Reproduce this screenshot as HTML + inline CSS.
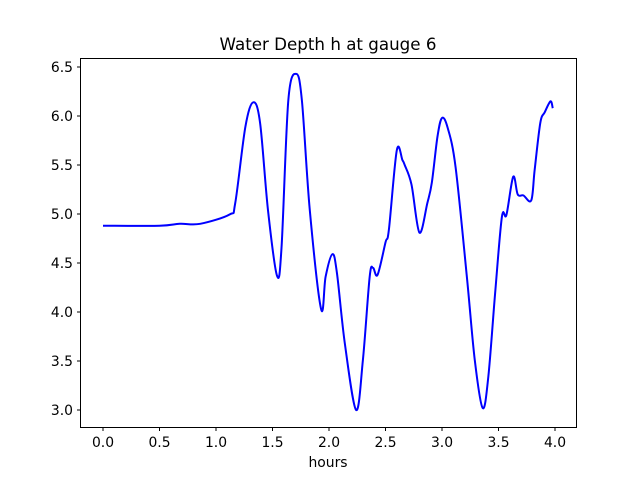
<!DOCTYPE html>
<html><head><meta charset="utf-8"><style>
body{margin:0;background:#fff;}
svg text{font-family:"DejaVu Sans","Liberation Sans",sans-serif;fill:#000;}
</style></head><body>
<svg id="chart" width="640" height="480" xmlns="http://www.w3.org/2000/svg">
<rect width="640" height="480" fill="#fff"/>
<text x="328" y="50" text-anchor="middle" font-size="16.7">Water Depth h at gauge 6</text>
<g id="xt"></g><g id="yt"></g>
<path id="line" fill="none" stroke="#0000ff" stroke-width="2"/>
<rect x="80.5" y="58.5" width="496" height="369" fill="none" stroke="#000" stroke-width="1"/>
<text x="328" y="467" text-anchor="middle" font-size="13.9">hours</text>
</svg>
<script>
const hours=[0,0.5,0.68,0.86,1.12,1.17,1.26,1.33,1.39,1.46,1.54,1.58,1.64,1.71,1.76,1.83,1.93,1.97,2.03,2.07,2.14,2.24,2.30,2.36,2.39,2.43,2.50,2.53,2.60,2.65,2.67,2.73,2.80,2.87,2.91,2.96,3.00,3.05,3.12,3.22,3.29,3.36,3.41,3.47,3.53,3.57,3.63,3.67,3.72,3.79,3.82,3.87,3.91,3.96,3.98];
const depth=[4.88,4.88,4.90,4.90,4.995,5.11,5.89,6.14,5.93,5.04,4.37,4.66,6.16,6.43,6.16,5.04,4.03,4.36,4.59,4.40,3.68,3.0,3.51,4.36,4.45,4.38,4.71,4.84,5.65,5.55,5.50,5.30,4.81,5.11,5.32,5.79,5.98,5.88,5.48,4.36,3.51,3.02,3.34,4.19,4.97,4.99,5.38,5.20,5.19,5.14,5.45,5.93,6.04,6.15,6.08];
const xTicks=[0,0.5,1,1.5,2,2.5,3,3.5,4];
const xTickLabels=["0.0","0.5","1.0","1.5","2.0","2.5","3.0","3.5","4.0"];
const yTicks=[3,3.5,4,4.5,5,5.5,6,6.5];
const yTickLabels=["3.0","3.5","4.0","4.5","5.0","5.5","6.0","6.5"];
const X=h=>103+h*113;
const Y=v=>410-(v-3)*98;
const NS="http://www.w3.org/2000/svg";
const xt=document.getElementById('xt'),yt=document.getElementById('yt');
xTicks.forEach((t,i)=>{
 const l=document.createElementNS(NS,'line');
 l.setAttribute('x1',X(t));l.setAttribute('x2',X(t));l.setAttribute('y1',427.5);l.setAttribute('y2',431);l.setAttribute('stroke','#000');
 
 
 xt.appendChild(l);
 const s=document.createElementNS(NS,'text');
 s.setAttribute('x',X(t));s.setAttribute('y',447);s.setAttribute('text-anchor','middle');s.setAttribute('font-size','13.9');
 s.textContent=xTickLabels[i];
 
 
 xt.appendChild(s);
});
yTicks.forEach((t,i)=>{
 const l=document.createElementNS(NS,'line');
 l.setAttribute('x1',77);l.setAttribute('x2',80.5);l.setAttribute('y1',Y(t));l.setAttribute('y2',Y(t));l.setAttribute('stroke','#000');
 
 
 yt.appendChild(l);
 const s=document.createElementNS(NS,'text');
 s.setAttribute('x',73);s.setAttribute('y',Y(t)+5);s.setAttribute('text-anchor','end');s.setAttribute('font-size','13.9');
 s.textContent=yTickLabels[i];
 
 
 yt.appendChild(s);
});
const P=hours.map((h,i)=>[X(h),Y(depth[i])]);
let d=`M${P[0][0]},${P[0][1]}`;
for(let i=0;i<P.length-1;i++){
 const p0=P[i-1]||P[i],p1=P[i],p2=P[i+1],p3=P[i+2]||P[i+1];
 const c1=[p1[0]+(p2[0]-p0[0])/6,p1[1]+(p2[1]-p0[1])/6];
 const c2=[p2[0]-(p3[0]-p1[0])/6,p2[1]-(p3[1]-p1[1])/6];
 d+=`C${c1[0]},${c1[1]} ${c2[0]},${c2[1]} ${p2[0]},${p2[1]}`;
}
document.getElementById('line').setAttribute('d',d);
</script>
</body></html>
